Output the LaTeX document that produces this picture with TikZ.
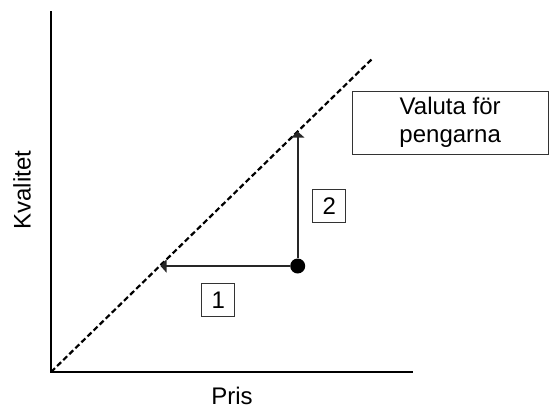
\documentclass[tikz,border=0pt]{standalone}
\usepackage{fontspec}
\setmainfont{Liberation Sans}
\usetikzlibrary{arrows.meta,positioning,calc}

\begin{document}
\begin{tikzpicture}[x=1pt,y=-1pt,
  axis/.style={draw=black,line width=1.3pt},
  trend/.style={draw=black,line width=2.2pt,dash pattern=on 5.5pt off 3pt},
  move/.style={draw=black!85,line width=1.6pt,-{Triangle[width=13pt,length=6pt]}},
  numbox/.style={draw=black!80,line width=1pt,minimum width=33pt,minimum height=33pt,
                 inner sep=0pt,font=\fontsize{24}{28}\selectfont},
  lab/.style={font=\fontsize{24}{28}\selectfont},
]
\useasboundingbox (0,0) rectangle (549,410);

% axes and the dashed value line
\coordinate (origin) at (51,372);
\coordinate (ytop) at (51,11);
\coordinate (xend) at (413,372);
\coordinate (tend) at (372,59);
\draw[axis] (ytop) -- (origin) -- (xend);
\draw[trend] (origin) -- (tend);

% the two moves from the start point
\node[circle,fill=black,minimum size=15pt,inner sep=0pt] (start) at (297.7,266) {};
\coordinate (hit1) at (160.5,266);
\coordinate (hit2) at (297.7,131.5);
\draw[move] (start) -- (hit1);
\draw[move] (start) -- (hit2);

\node[numbox] (n1) at (218.3,300) {1};
\node[numbox] (n2) at (329.2,206) {2};

\node[draw=black!80,line width=1pt,minimum width=196pt,minimum height=63pt,
      align=center,lab] (value) at (450.2,122.5) {Valuta för\\pengarna};

\node[lab,rotate=90] (ylab) at (22,190) {Kvalitet};
\node[lab,anchor=base] (xlab) at (232,404) {Pris};
\end{tikzpicture}
\end{document}
